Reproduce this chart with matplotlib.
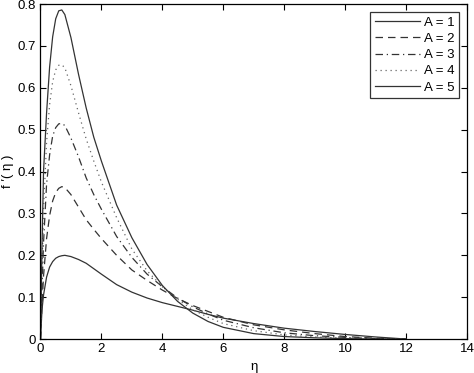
import matplotlib
matplotlib.use("Agg")
import matplotlib.pyplot as plt

plt.rcParams['font.family'] = ['Liberation Sans', 'DejaVu Sans']

eta = [0, 0.05, 0.1, 0.2, 0.3, 0.4, 0.5, 0.6, 0.7, 0.8, 1.0, 1.25, 1.5, 1.75,
       2, 2.5, 3, 3.5, 4, 4.5, 5, 5.5, 6, 7, 8, 9, 10, 11, 12]

f_A1 = [0, 0.07, 0.105, 0.148, 0.172, 0.185, 0.193, 0.197, 0.199, 0.2, 0.197, 0.19, 0.181, 0.168,
        0.155, 0.13, 0.112, 0.098, 0.087, 0.078, 0.069, 0.059, 0.05, 0.037, 0.026, 0.018, 0.011, 0.005, 0]
f_A2 = [0, 0.08, 0.15, 0.24, 0.295, 0.33, 0.35, 0.36, 0.364, 0.362, 0.345, 0.315, 0.285, 0.262,
        0.24, 0.2, 0.165, 0.14, 0.117, 0.097, 0.08, 0.066, 0.052, 0.034, 0.022, 0.013, 0.006, 0.002, 0]
f_A3 = [0, 0.12, 0.23, 0.37, 0.44, 0.485, 0.505, 0.514, 0.515, 0.51, 0.48, 0.435, 0.385, 0.345,
        0.31, 0.245, 0.195, 0.155, 0.125, 0.098, 0.077, 0.06, 0.045, 0.027, 0.015, 0.008, 0.004, 0.001, 0]
f_A4 = [0, 0.17, 0.31, 0.47, 0.56, 0.615, 0.643, 0.654, 0.655, 0.648, 0.605, 0.54, 0.478, 0.425,
        0.375, 0.29, 0.215, 0.163, 0.125, 0.095, 0.07, 0.052, 0.037, 0.02, 0.01, 0.005, 0.002, 0.001, 0]
f_A5 = [0, 0.22, 0.4, 0.54, 0.65, 0.722, 0.765, 0.784, 0.786, 0.775, 0.72, 0.632, 0.552, 0.482,
        0.425, 0.32, 0.242, 0.178, 0.128, 0.09, 0.062, 0.042, 0.028, 0.013, 0.006, 0.003, 0.001, 0, 0]

labels = ['A = 1', 'A = 2', 'A = 3', 'A = 4', 'A = 5']
xticks = [0, 2, 4, 6, 8, 10, 12, 14]
yticks = [0, 0.1, 0.2, 0.3, 0.4, 0.5, 0.6, 0.7, 0.8]
yticklabels = ['0', '0.1', '0.2', '0.3', '0.4', '0.5', '0.6', '0.7', '0.8']

fig = plt.figure(figsize=(4.74, 3.73), dpi=100)
ax = fig.add_axes([0.0854, 0.091, 0.8998, 0.898])

series = [f_A1, f_A2, f_A3, f_A4, f_A5]
styles = ['-', (0, (6, 4)), (0, (6, 3, 1, 3)), (0, (1, 3)), '-']
colors = ['#333333', '#333333', '#333333', '#666666', '#333333']
for ys, ls, c, lab in zip(series, styles, colors, labels):
    ax.plot(eta, ys, linestyle=ls, color=c, lw=0.9, label=lab)

ax.set_xlim(0, 14)
ax.set_ylim(0, 0.8)
ax.set_xticks(xticks)
ax.set_xticklabels([str(t) for t in xticks])
ax.set_yticks(yticks)
ax.set_yticklabels(yticklabels)
ax.tick_params(direction='in', top=True, right=True, labelsize=9.5, length=4, width=0.8, pad=3)
for s in ax.spines.values():
    s.set_linewidth(0.9)

ax.set_xlabel('η', fontsize=9.5, labelpad=4)
ax.set_ylabel('f ′( η )', fontsize=9.5, labelpad=3)

leg = ax.legend(loc='upper right', fontsize=9.5, frameon=True, fancybox=False,
                edgecolor='black', handlelength=3.4, borderaxespad=0.6,
                labelspacing=0.3, handletextpad=0.3, borderpad=0.35)
leg.get_frame().set_linewidth(0.9)

fig.savefig('out.png', dpi=100)
